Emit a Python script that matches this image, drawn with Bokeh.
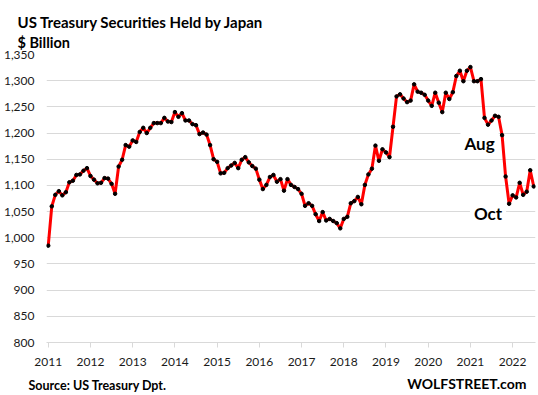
from bokeh.plotting import figure
from bokeh.models import Label, FixedTicker, Range1d
from bokeh.embed import file_html
from bokeh.resources import INLINE

# Japan's holdings of US Treasuries, $ billion, monthly
holdings = [985, 1060, 1082, 1089, 1081, 1087, 1106, 1109, 1120, 1121, 1128, 1133,
            1118, 1111, 1104, 1105, 1114, 1113, 1103, 1084, 1136, 1149, 1177, 1174,
            1186, 1183, 1202, 1210, 1200, 1210, 1219, 1219, 1219, 1229, 1222, 1221,
            1240, 1231, 1238, 1224, 1224, 1217, 1215, 1198, 1201, 1197, 1177, 1150,
            1145, 1123, 1124, 1133, 1138, 1143, 1133, 1149, 1154, 1144, 1137, 1132,
            1111, 1093, 1101, 1116, 1120, 1107, 1112, 1090, 1112, 1101, 1097, 1093,
            1084, 1061, 1066, 1061, 1045, 1032, 1049, 1033, 1036, 1032, 1028, 1018,
            1036, 1040, 1066, 1070, 1078, 1064, 1101, 1121, 1132, 1176, 1147, 1169,
            1163, 1154, 1212, 1270, 1274, 1266, 1259, 1262, 1293, 1279, 1277, 1273,
            1262, 1252, 1277, 1258, 1240, 1277, 1265, 1278, 1309, 1319, 1299, 1319,
            1326, 1299, 1299, 1303, 1229, 1216, 1224, 1233, 1231, 1196, 1117, 1065,
            1081, 1077, 1105, 1082, 1088, 1129, 1098]
months = list(range(len(holdings)))

year_labels = ["2011", "2012", "2013", "2014", "2015", "2016",
               "2017", "2018", "2019", "2020", "2021", "2022"]
year_ticks = [12 * i for i in range(len(year_labels))]
y_ticks = list(range(800, 1351, 50))

FONT = "Lato"
W, H = 538, 395

p = figure(width=W, height=H, output_backend="svg", toolbar_location=None,
           x_range=Range1d(-0.5, len(holdings) - 0.5), y_range=Range1d(800, 1350),
           min_border_left=46, min_border_right=3, min_border_top=54, min_border_bottom=53)
p.outline_line_color = None
p.background_fill_color = "white"
p.border_fill_color = "white"

# grid
p.xgrid.visible = False
p.ygrid.ticker = FixedTicker(ticks=y_ticks)
p.ygrid.grid_line_color = "#d9d9d9"
p.ygrid.grid_line_width = 1

# y axis
p.yaxis.ticker = FixedTicker(ticks=y_ticks)
p.yaxis.major_label_overrides = {v: f"{v:,}" for v in y_ticks}
p.yaxis.axis_line_color = None
p.yaxis.major_tick_line_color = None
p.yaxis.minor_tick_line_color = None
p.yaxis.major_tick_out = 0
p.yaxis.major_tick_in = 0
p.yaxis.major_label_standoff = 12
p.yaxis.major_label_text_font = FONT
p.yaxis.major_label_text_font_size = "12px"
p.yaxis.major_label_text_color = "#1a1a1a"

# x axis
p.xaxis.ticker = FixedTicker(ticks=year_ticks)
p.xaxis.major_label_overrides = {t: l for t, l in zip(year_ticks, year_labels)}
p.xaxis.axis_line_color = "#d9d9d9"
p.xaxis.major_tick_line_color = "#d9d9d9"
p.xaxis.minor_tick_line_color = None
p.xaxis.major_tick_out = 5
p.xaxis.major_tick_in = 0
p.xaxis.major_label_standoff = 10
p.xaxis.major_label_text_font = FONT
p.xaxis.major_label_text_font_size = "12px"
p.xaxis.major_label_text_color = "#1a1a1a"

# annotations with white boxes (under the line)
for txt, xi, yv in [("Aug", 122.6, 1180), ("Oct", 125.0, 1047)]:
    lab = Label(x=xi, y=yv, text=txt, text_align="center", text_baseline="alphabetic",
                text_font=FONT, text_font_style="bold", text_font_size="17px",
                text_color="black", background_fill_color="white", padding=4,
                level="underlay")
    p.add_layout(lab)

# series
p.line(months, holdings, line_color="#ff0000", line_width=3, line_join="round")
p.scatter(months, holdings, size=3.5, color="black")


def side_text(txt, place, x, y, size, align="left"):
    # screen units are relative to the text's own side-panel row (y up from its bottom)
    p.add_layout(Label(x=x, y=y, x_units="screen", y_units="screen", text=txt,
                       text_align=align, text_baseline="alphabetic",
                       text_font=FONT, text_font_style="bold", text_font_size=size,
                       text_color="black"), place)


# above: rows stack upward from the frame (first added is nearest)
side_text("Source: US Treasury  Dpt.", "above", -18, -331, "12.5px")
side_text("$ Billion", "above", -29, -2.5, "14.5px")
side_text("US Treasury Securities Held by Japan", "above", -29, 0.5, "15px")
# below: after the x axis
side_text("WOLFSTREET.com", "below", 480, 2.5, "14px", align="right")

open("out.html", "w").write(file_html(p, INLINE))
